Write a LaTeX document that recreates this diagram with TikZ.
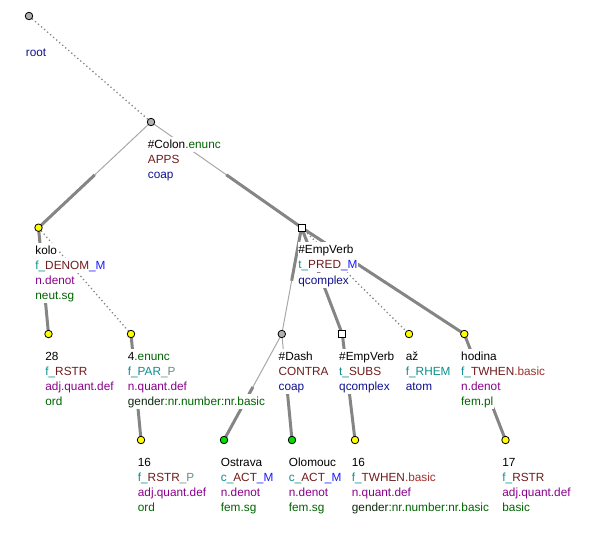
\documentclass[tikz,border=0pt]{standalone}
\usepackage{fontspec}
\setmainfont{Liberation Sans}
\usetikzlibrary{calc}
\pgfdeclarelayer{bg}
\pgfsetlayers{bg,main}
\definecolor{cTeal}{HTML}{0A9090}
\definecolor{cBrown}{HTML}{701C1C}
\definecolor{cBlue}{HTML}{1A1AFF}
\definecolor{cPurple}{HTML}{8B008B}
\definecolor{cDblue}{HTML}{10108F}
\definecolor{cGreen}{HTML}{006400}
\definecolor{cBasic}{HTML}{A0302A}
\definecolor{cPgray}{HTML}{6A8F80}
\definecolor{cGen}{HTML}{102A10}
\definecolor{cThin}{HTML}{A8A8A8}
\definecolor{cThick}{HTML}{858585}
\definecolor{cDot}{HTML}{858585}
\definecolor{cNodeGray}{HTML}{B0B0B0}
\definecolor{cNodeGreen}{HTML}{00E000}
\definecolor{cNodeYellow}{HTML}{FFFF00}
\newcommand\tline[4]{\node[lab] (#1) at ([shift={(-3.8,#3)}]#2) {#4};}
\begin{document}
\begin{tikzpicture}[x=1pt,y=-1pt,
  mk/.style={draw=black, line width=0.8pt, minimum size=7.5pt, inner sep=0pt},
  gcirc/.style={mk, circle, fill=cNodeGray},
  ycirc/.style={mk, circle, fill=cNodeYellow},
  grcirc/.style={mk, circle, fill=cNodeGreen},
  sqr/.style={mk, rectangle, fill=white, minimum size=7pt},
  thinedge/.style={draw=cThin, line width=1pt},
  thickedge/.style={draw=cThick, line width=3pt},
  dotedge/.style={draw=cDot, line width=1.3pt, dash pattern=on 1.3pt off 2.7pt},
  lab/.style={anchor=west, fill=white, inner xsep=0.5pt, inner ysep=0pt,
    text height=11.5pt, text depth=3.5pt, font=\fontsize{11.8pt}{15pt}\selectfont},
]
\useasboundingbox (0,0) rectangle (601,549);
% nodes
\node[gcirc] (root) at (29,16) {};
\node[gcirc] (colon) at (151,122) {};
\node[ycirc] (kolo) at (38.5,227.7) {};
\node[sqr] (empverb) at (301.5,227.5) {};
\node[ycirc] (n28) at (48.5,334) {};
\node[ycirc] (enunc4) at (131,334) {};
\node[gcirc] (dash) at (281.8,334) {};
\node[sqr] (empverb2) at (342.3,334) {};
\node[ycirc] (az) at (409,334) {};
\node[ycirc] (hodina) at (464.3,334) {};
\node[ycirc] (n16a) at (141,440) {};
\node[grcirc] (ostrava) at (224,440) {};
\node[grcirc] (olomouc) at (292,440) {};
\node[ycirc] (n16b) at (355,440) {};
\node[ycirc] (n17) at (505.5,440) {};
% midpoints of split edges
\coordinate (m-ck) at ($(colon)!0.5!(kolo)$);
\coordinate (m-ce) at ($(colon)!0.5!(empverb)$);
\coordinate (m-ed) at ($(empverb)!0.5!(dash)$);
\coordinate (m-do) at ($(dash)!0.5!(ostrava)$);
\coordinate (m-dl) at ($(dash)!0.5!(olomouc)$);
\begin{pgfonlayer}{bg}
\draw[dotedge] (root.center) -- (colon.center);
\draw[thinedge] (colon.center) -- (m-ck);
\draw[thickedge] (m-ck) -- (kolo.center);
\draw[thinedge] (colon.center) -- (m-ce);
\draw[thickedge] (m-ce) -- (empverb.center);
\draw[thickedge] (kolo.center) -- (n28.center);
\draw[dotedge] (kolo.center) -- (enunc4.center);
\draw[thickedge] (enunc4.center) -- (n16a.center);
\draw[thickedge] (empverb.center) -- (m-ed);
\draw[thinedge] (m-ed) -- (dash.center);
\draw[thickedge] (empverb.center) -- (empverb2.center);
\draw[dotedge] (empverb.center) -- (az.center);
\draw[thickedge] (empverb.center) -- (hodina.center);
\draw[thinedge] (dash.center) -- (m-do);
\draw[thickedge] (m-do) -- (ostrava.center);
\draw[thinedge] (dash.center) -- (m-dl);
\draw[thickedge] (m-dl) -- (olomouc.center);
\draw[thickedge] (empverb2.center) -- (n16b.center);
\draw[thickedge] (hodina.center) -- (n17.center);
\end{pgfonlayer}
% labels
\tline{root-1}{root}{36.5}{\textcolor{cDblue}{root}}
\tline{colon-1}{colon}{22.3}{\#Colon\textcolor{cGreen}{.enunc}}
\tline{colon-2}{colon}{37.4}{\textcolor{cBrown}{APPS}}
\tline{colon-3}{colon}{52.5}{\textcolor{cDblue}{coap}}
\tline{kolo-1}{kolo}{22.3}{kolo}
\tline{kolo-2}{kolo}{37.4}{\textcolor{cTeal}{f\_}\textcolor{cBrown}{DENOM}\textcolor{cBlue}{\_M}}
\tline{kolo-3}{kolo}{52.5}{\textcolor{cPurple}{n.denot}}
\tline{kolo-4}{kolo}{67.6}{\textcolor{cGreen}{neut.sg}}
\tline{empverb-1}{empverb}{22.3}{\#EmpVerb}
\tline{empverb-2}{empverb}{37.4}{\textcolor{cTeal}{t\_}\textcolor{cBrown}{PRED}\textcolor{cBlue}{\_M}}
\tline{empverb-3}{empverb}{52.5}{\textcolor{cDblue}{qcomplex}}
\tline{n28-1}{n28}{22.3}{28}
\tline{n28-2}{n28}{37.4}{\textcolor{cTeal}{f\_}\textcolor{cBrown}{RSTR}}
\tline{n28-3}{n28}{52.5}{\textcolor{cPurple}{adj.quant.def}}
\tline{n28-4}{n28}{67.6}{\textcolor{cGreen}{ord}}
\tline{enunc4-1}{enunc4}{22.3}{4\textcolor{cGreen}{.enunc}}
\tline{enunc4-2}{enunc4}{37.4}{\textcolor{cTeal}{f\_PAR}\textcolor{cPgray}{\_P}}
\tline{enunc4-3}{enunc4}{52.5}{\textcolor{cPurple}{n.quant.def}}
\tline{enunc4-4}{enunc4}{67.6}{\textcolor{cGen}{gender}\textcolor{cGreen}{:nr.number:nr.basic}}
\tline{dash-1}{dash}{22.3}{\#Dash}
\tline{dash-2}{dash}{37.4}{\textcolor{cBrown}{CONTRA}}
\tline{dash-3}{dash}{52.5}{\textcolor{cDblue}{coap}}
\tline{empverb2-1}{empverb2}{22.3}{\#EmpVerb}
\tline{empverb2-2}{empverb2}{37.4}{\textcolor{cTeal}{t\_}\textcolor{cBrown}{SUBS}}
\tline{empverb2-3}{empverb2}{52.5}{\textcolor{cDblue}{qcomplex}}
\tline{az-1}{az}{22.3}{až}
\tline{az-2}{az}{37.4}{\textcolor{cTeal}{f\_RHEM}}
\tline{az-3}{az}{52.5}{\textcolor{cDblue}{atom}}
\tline{hodina-1}{hodina}{22.3}{hodina}
\tline{hodina-2}{hodina}{37.4}{\textcolor{cTeal}{f\_}\textcolor{cBrown}{TWHEN}\textcolor{cBasic}{.basic}}
\tline{hodina-3}{hodina}{52.5}{\textcolor{cPurple}{n.denot}}
\tline{hodina-4}{hodina}{67.6}{\textcolor{cGreen}{fem.pl}}
\tline{n16a-1}{n16a}{22.3}{16}
\tline{n16a-2}{n16a}{37.4}{\textcolor{cTeal}{f\_}\textcolor{cBrown}{RSTR}\textcolor{cPgray}{\_P}}
\tline{n16a-3}{n16a}{52.5}{\textcolor{cPurple}{adj.quant.def}}
\tline{n16a-4}{n16a}{67.6}{\textcolor{cGreen}{ord}}
\tline{ostrava-1}{ostrava}{22.3}{Ostrava}
\tline{ostrava-2}{ostrava}{37.4}{\textcolor{cTeal}{c\_}\textcolor{cBrown}{ACT}\textcolor{cBlue}{\_M}}
\tline{ostrava-3}{ostrava}{52.5}{\textcolor{cPurple}{n.denot}}
\tline{ostrava-4}{ostrava}{67.6}{\textcolor{cGreen}{fem.sg}}
\tline{olomouc-1}{olomouc}{22.3}{Olomouc}
\tline{olomouc-2}{olomouc}{37.4}{\textcolor{cTeal}{c\_}\textcolor{cBrown}{ACT}\textcolor{cBlue}{\_M}}
\tline{olomouc-3}{olomouc}{52.5}{\textcolor{cPurple}{n.denot}}
\tline{olomouc-4}{olomouc}{67.6}{\textcolor{cGreen}{fem.sg}}
\tline{n16b-1}{n16b}{22.3}{16}
\tline{n16b-2}{n16b}{37.4}{\textcolor{cTeal}{f\_}\textcolor{cBrown}{TWHEN}\textcolor{cBasic}{.basic}}
\tline{n16b-3}{n16b}{52.5}{\textcolor{cPurple}{n.quant.def}}
\tline{n16b-4}{n16b}{67.6}{\textcolor{cGen}{gender}\textcolor{cGreen}{:nr.number:nr.basic}}
\tline{n17-1}{n17}{22.3}{17}
\tline{n17-2}{n17}{37.4}{\textcolor{cTeal}{f\_}\textcolor{cBrown}{RSTR}}
\tline{n17-3}{n17}{52.5}{\textcolor{cPurple}{adj.quant.def}}
\tline{n17-4}{n17}{67.6}{\textcolor{cGreen}{basic}}
\end{tikzpicture}
\end{document}
